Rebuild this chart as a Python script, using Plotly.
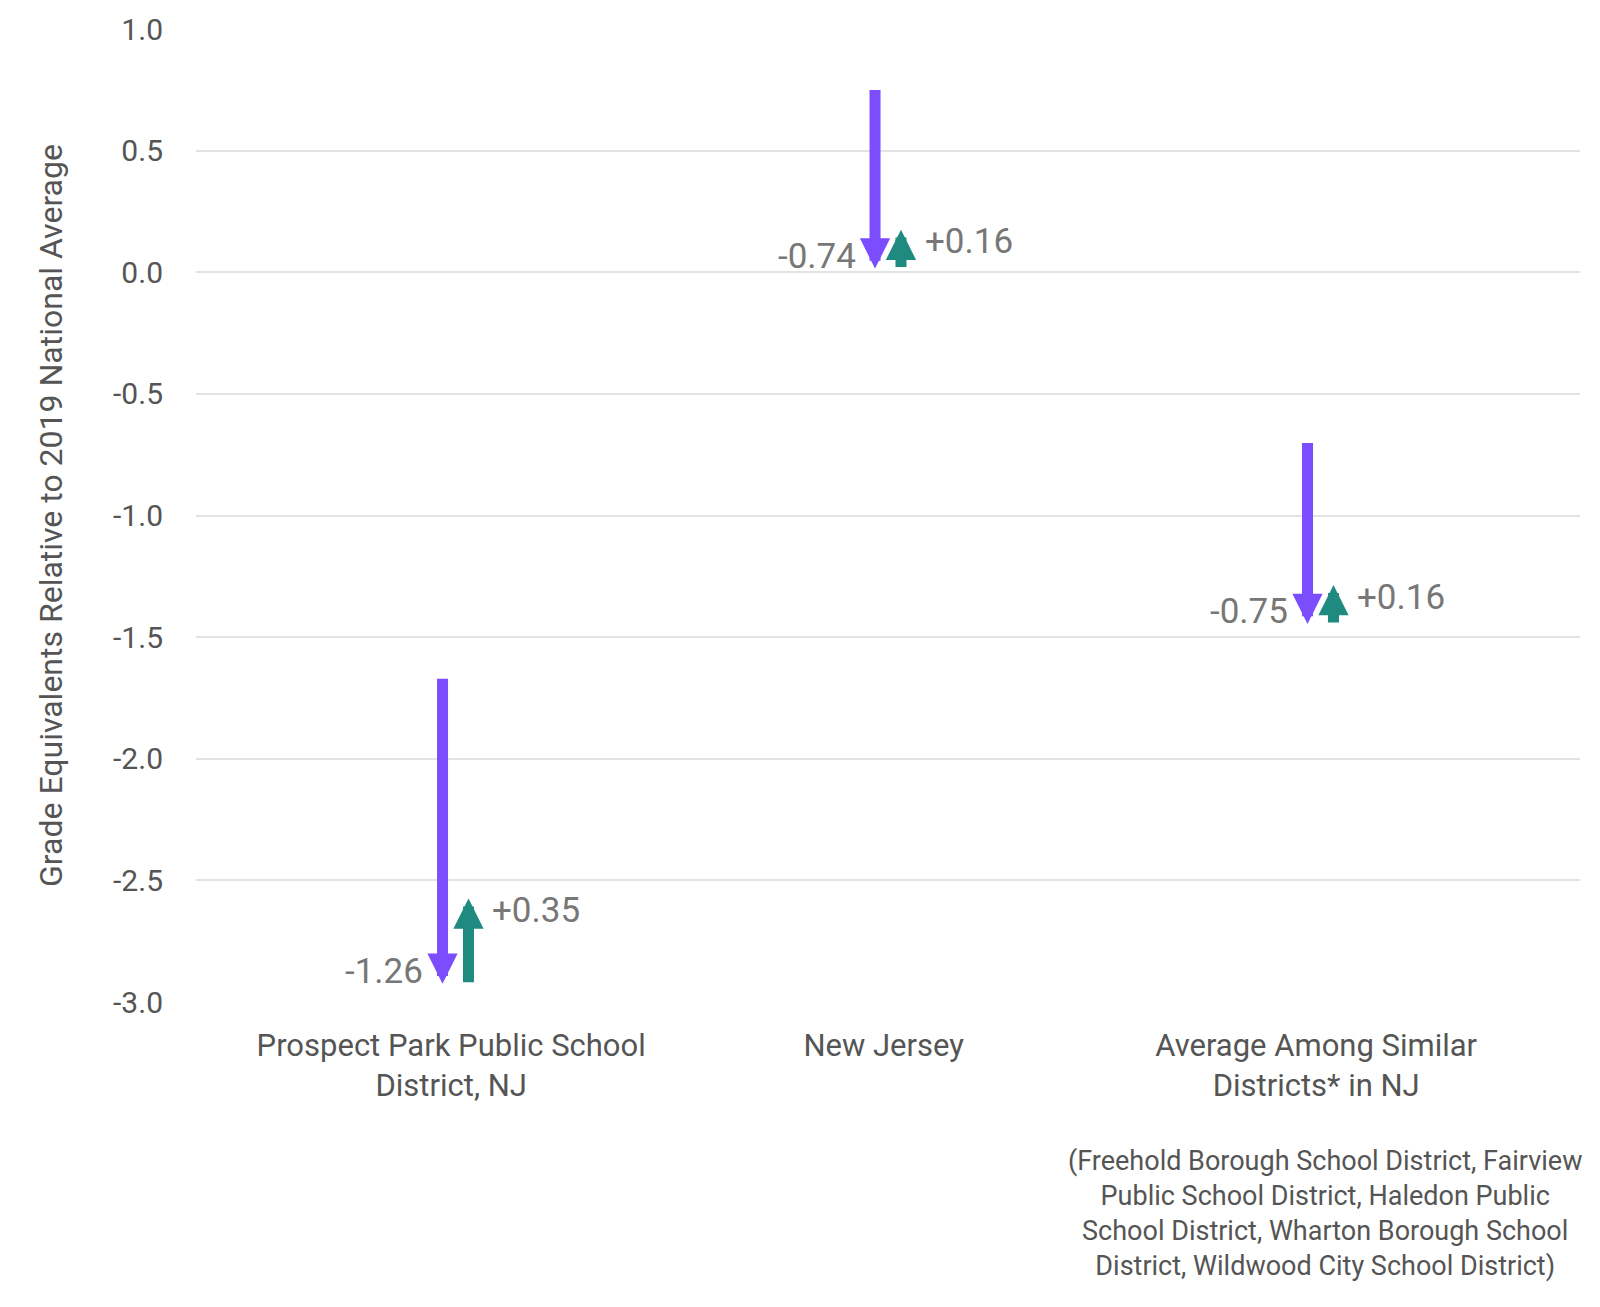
import plotly.graph_objects as go

categories = ["Prospect Park Public School<br>District, NJ", "New Jersey", "Average Among Similar<br>Districts* in NJ"]
start_vals = [-1.665, 0.755, -0.696]
drops = [-1.26, -0.74, -0.75]
recoveries = [0.35, 0.16, 0.16]
drop_labels = ["-1.26", "-0.74", "-0.75"]
rec_labels = ["+0.35", "+0.16", "+0.16"]
yticks = [1.0, 0.5, 0.0, -0.5, -1.0, -1.5, -2.0, -2.5, -3.0]

PURPLE = "#7c4dff"
GREEN = "#1f8a80"
GRAY = "#777777"

fig = go.Figure()
fig.add_trace(go.Scatter(x=[0, 1, 2], y=[None] * 3, mode="markers", showlegend=False))
for i, (s, d, r) in enumerate(zip(start_vals, drops, recoveries)):
    end = s + d
    top = end + r
    fig.add_annotation(x=i - 0.02, y=end, ax=i - 0.02, ay=s, xref="x", yref="y", axref="x", ayref="y",
                       showarrow=True, arrowhead=2, arrowwidth=11, arrowsize=0.55, arrowcolor=PURPLE, text="")
    fig.add_annotation(x=i + 0.04, y=top, ax=i + 0.04, ay=end, xref="x", yref="y", axref="x", ayref="y",
                       showarrow=True, arrowhead=2, arrowwidth=11, arrowsize=0.55, arrowcolor=GREEN, text="")
    fig.add_annotation(x=i - 0.06, y=end + 0.05, xref="x", yref="y", text=drop_labels[i], showarrow=False,
                       xanchor="right", font=dict(size=35, color=GRAY))
    fig.add_annotation(x=i + 0.09, y=top - 0.05, xref="x", yref="y", text=rec_labels[i], showarrow=False,
                       xanchor="left", font=dict(size=35, color=GRAY))

fig.add_annotation(x=2.02, y=-0.145, xref="x", yref="paper", yanchor="top", showarrow=False,
                   text="(Freehold Borough School District, Fairview<br>Public School District, Haledon Public<br>School District, Wharton Borough School<br>District, Wildwood City School District)",
                   font=dict(size=27, color="#555555", lineposition="none"), align="center")

fig.update_layout(
    width=1600, height=1307, plot_bgcolor="white", paper_bgcolor="white",
    margin=dict(l=196, r=20, t=29, b=305, autoexpand=False),
    font=dict(family="Roboto, Noto Sans, sans-serif", color="#555555"),
    showlegend=False,
    xaxis=dict(range=[-0.59, 2.61], tickvals=[0, 1, 2], ticktext=categories, showgrid=False, automargin=False,
               zeroline=False, tickfont=dict(size=31, color="#555555"), ticks="", ticklabelstandoff=22),
    yaxis=dict(range=[-3.0, 1.0], tickvals=yticks, ticktext=[f"{v:.1f}" for v in yticks], automargin=False,
               gridcolor="#e3e3e3", gridwidth=2, zeroline=False, tickfont=dict(size=30, color="#555555"),
               ticklabelstandoff=32,
               title=dict(text="Grade Equivalents Relative to 2019 National Average", font=dict(size=32, color="#555555"),
                          standoff=40)),
)
fig.write_html("out.html", config={"displayModeBar": False})
with open("out.html", encoding="utf-8") as f:
    html = f.read()
html = html.replace("<head>", "<head><style>html,body{margin:0;padding:0;overflow:hidden}</style>", 1)
with open("out.html", "w", encoding="utf-8") as f:
    f.write(html)
